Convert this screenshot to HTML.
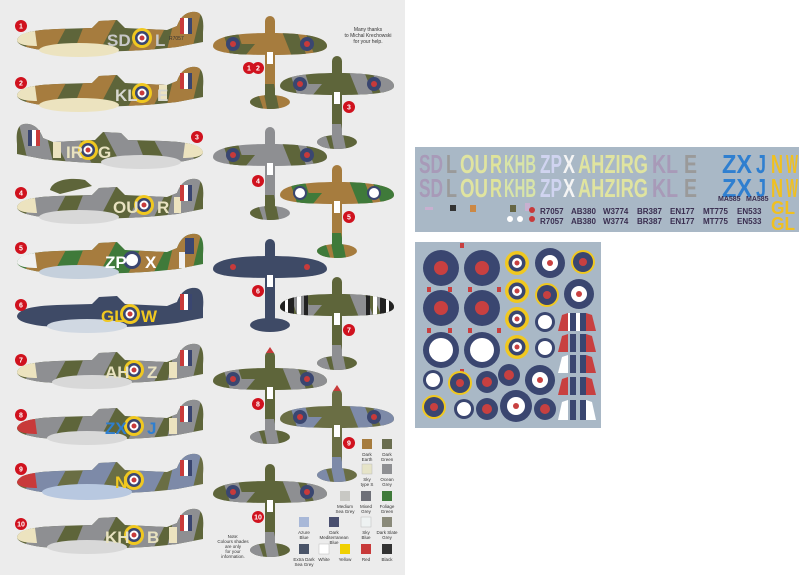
<!DOCTYPE html>
<html><head><meta charset="utf-8"><style>
html,body{margin:0;padding:0;background:#fff}
svg{display:block}
text{font-family:"Liberation Sans",sans-serif}
</style></head><body>
<svg width="800" height="575" viewBox="0 0 800 575" xmlns="http://www.w3.org/2000/svg">
<defs>
<path id="fus" d="M0,0 C2,-7 15,-10 40,-11 L75,-12 L82,-19 L100,-20 L108,-12 L150,-10 L160,-14 C164,-25 171,-29 179,-28 C186,-27 187,-18 186,-8 L186,2 L160,7 C120,12 60,13 25,10 C10,8 0,5 0,0Z"/>
<clipPath id="cf"><use href="#fus"/></clipPath>
<g id="camo">
<path d="M20,-14 L50,-14 L35,14 L5,14Z"/><path d="M70,-22 L100,-22 L80,16 L55,16Z"/><path d="M125,-16 L150,-16 L135,14 L110,14Z"/><path d="M160,-32 L185,-32 L175,10 L150,10Z"/>
</g>
<path id="wing" d="M-57,2 C-57,-7 -35,-11 0,-11 C35,-11 57,-7 57,2 C57,8 40,11 0,11 C-40,11 -57,8 -57,2Z"/>
<clipPath id="cp">
<path d="M-57,2 C-57,-7 -35,-11 0,-11 C35,-11 57,-7 57,2 C57,8 40,11 0,11 C-40,11 -57,8 -57,2Z"/>
<rect x="-5" y="-28" width="10" height="90" rx="5"/>
<ellipse cx="0" cy="58" rx="20" ry="7"/>
</clipPath>
<g id="plan">
<use href="#wing"/>
<rect x="-5" y="-28" width="10" height="90" rx="5"/>
<ellipse cx="0" cy="58" rx="20" ry="7"/>
</g>
<g id="pcamo">
<path d="M-50,-20 L-35,-20 L-5,70 L-20,70Z"/><path d="M5,-30 L20,-30 L40,20 L25,20Z"/><path d="M35,-12 L55,-12 L60,12 L45,12Z"/><path d="M-30,0 L-15,0 L-25,12 L-40,12Z"/><path d="M-8,40 L4,40 L10,70 L-2,70Z"/>
</g>
</defs>
<rect x="0" y="0" width="405" height="575" fill="#ececec"/>

<!-- SIDE PROFILES -->
<g font-weight="bold">
<g transform="translate(17,40)">
<use href="#fus" fill="#5e653a"/><g clip-path="url(#cf)" fill="#a67c3e"><use href="#camo"/></g>
<path d="M0,0 C2,-6 10,-8 18,-9 L20,6 C8,6 0,4 0,0Z" fill="#ece3bf"/>
<ellipse cx="62" cy="10" rx="40" ry="7" fill="#ece3bf"/>
<rect x="163" y="-22" width="12" height="16" fill="#3a4670"/><rect x="163" y="-22" width="8" height="16" fill="#fff"/><rect x="163" y="-22" width="4" height="16" fill="#c83a3a"/>
<circle cx="125" cy="-2" r="10" fill="#f0c820"/><circle cx="125" cy="-2" r="7" fill="#3a4670"/><circle cx="125" cy="-2" r="4.5" fill="#fff"/><circle cx="125" cy="-2" r="2.5" fill="#c83a3a"/>
<text x="90" y="6" font-size="17" fill="#c8c8c8">SD</text><text x="138" y="6" font-size="17" fill="#c8c8c8">L</text>
<text x="152" y="0" font-size="5" fill="#333" font-weight="normal">R7057</text>
</g>
<g transform="translate(17,95)">
<use href="#fus" fill="#5e653a"/><g clip-path="url(#cf)" fill="#a67c3e"><use href="#camo"/></g>
<path d="M0,0 C2,-6 10,-8 18,-9 L20,6 C8,6 0,4 0,0Z" fill="#ece3bf"/>
<ellipse cx="62" cy="10" rx="40" ry="7" fill="#ece3bf"/>
<rect x="142" y="-10" width="8" height="16" fill="#ece3bf"/>
<rect x="163" y="-22" width="12" height="16" fill="#3a4670"/><rect x="163" y="-22" width="8" height="16" fill="#fff"/><rect x="163" y="-22" width="4" height="16" fill="#c83a3a"/>
<circle cx="125" cy="-2" r="10" fill="#f0c820"/><circle cx="125" cy="-2" r="7" fill="#3a4670"/><circle cx="125" cy="-2" r="4.5" fill="#fff"/><circle cx="125" cy="-2" r="2.5" fill="#c83a3a"/>
<text x="98" y="6" font-size="17" fill="#d8d8d0">KL</text><text x="140" y="6" font-size="17" fill="#d8d8d0">E</text>
</g>
<g transform="translate(203,152) scale(-1,1)">
<use href="#fus" fill="#5e653a"/><g clip-path="url(#cf)" fill="#8e8f92"><use href="#camo"/></g>
<path d="M0,0 C2,-6 10,-8 18,-9 L20,6 C8,6 0,4 0,0Z" fill="#ece3bf"/>
<ellipse cx="62" cy="10" rx="40" ry="7" fill="#d8d8d8"/>
<rect x="142" y="-10" width="8" height="16" fill="#ece3bf"/>
<rect x="163" y="-22" width="12" height="16" fill="#3a4670"/><rect x="163" y="-22" width="8" height="16" fill="#fff"/><rect x="163" y="-22" width="4" height="16" fill="#c83a3a"/>
<circle cx="115" cy="-2" r="10" fill="#f0c820"/><circle cx="115" cy="-2" r="7" fill="#3a4670"/><circle cx="115" cy="-2" r="4.5" fill="#fff"/><circle cx="115" cy="-2" r="2.5" fill="#c83a3a"/>
</g>
<text x="66" y="158" font-size="17" fill="#e8e2c0">IR</text><text x="98" y="158" font-size="17" fill="#e8e2c0">G</text>
<g transform="translate(17,207)">
<use href="#fus" fill="#5e653a"/><g clip-path="url(#cf)" fill="#8e8f92"><use href="#camo"/></g>
<path d="M0,0 C2,-6 10,-8 18,-9 L20,6 C8,6 0,4 0,0Z" fill="#ece3bf"/>
<ellipse cx="62" cy="10" rx="40" ry="7" fill="#d8d8d8"/>
<rect x="157" y="-10" width="7" height="16" fill="#ece3bf"/>
<rect x="163" y="-22" width="12" height="16" fill="#3a4670"/><rect x="163" y="-22" width="8" height="16" fill="#fff"/><rect x="163" y="-22" width="4" height="16" fill="#c83a3a"/>
<circle cx="127" cy="-2" r="10" fill="#f0c820"/><circle cx="127" cy="-2" r="7" fill="#3a4670"/><circle cx="127" cy="-2" r="4.5" fill="#fff"/><circle cx="127" cy="-2" r="2.5" fill="#c83a3a"/>
<text x="96" y="6" font-size="17" fill="#e8e2c0">OU</text><text x="140" y="6" font-size="17" fill="#e8e2c0">R</text>
</g>
<path d="M50,190 C52,180 70,177 85,180 L92,186 L60,194Z" fill="#5e653a"/>
<g transform="translate(17,262)">
<use href="#fus" fill="#3f7a3a"/><g clip-path="url(#cf)" fill="#a67c3e"><use href="#camo"/></g>
<path d="M0,0 C2,-6 10,-8 18,-9 L20,6 C8,6 0,4 0,0Z" fill="#f0f0f0"/>
<ellipse cx="62" cy="10" rx="40" ry="7" fill="#c5d0dc"/>
<rect x="162" y="-10" width="6" height="16" fill="#f0f0f0"/>
<rect x="168" y="-24" width="9" height="16" fill="#3a4670"/>
<circle cx="115" cy="-2" r="9" fill="#3a4670"/><circle cx="115" cy="-2" r="6" fill="#fff"/>
<text x="88" y="6" font-size="17" fill="#fff">ZP</text><text x="128" y="6" font-size="17" fill="#fff">X</text>
</g>
<g transform="translate(17,316)">
<use href="#fus" fill="#3e4a66"/>
<ellipse cx="70" cy="10" rx="40" ry="7" fill="#d0d8e2"/>
<rect x="163" y="-22" width="12" height="16" fill="#3a4670"/><rect x="163" y="-22" width="8" height="16" fill="#fff"/><rect x="163" y="-22" width="4" height="16" fill="#c83a3a"/>
<circle cx="113" cy="-2" r="10" fill="#f0c820"/><circle cx="113" cy="-2" r="7" fill="#3a4670"/><circle cx="113" cy="-2" r="4.5" fill="#fff"/><circle cx="113" cy="-2" r="2.5" fill="#c83a3a"/>
<text x="84" y="6" font-size="17" fill="#f0c820">GL</text><text x="124" y="6" font-size="17" fill="#f0c820">W</text>
</g>
<g transform="translate(17,372)">
<use href="#fus" fill="#5e653a"/><g clip-path="url(#cf)" fill="#8e8f92"><use href="#camo"/></g>
<path d="M0,0 C2,-6 10,-8 18,-9 L20,6 C8,6 0,4 0,0Z" fill="#ece3bf"/>
<ellipse cx="75" cy="10" rx="40" ry="7" fill="#d8d8d8"/>
<rect x="152" y="-10" width="8" height="16" fill="#ece3bf"/>
<rect x="163" y="-22" width="12" height="16" fill="#3a4670"/><rect x="163" y="-22" width="8" height="16" fill="#fff"/><rect x="163" y="-22" width="4" height="16" fill="#c83a3a"/>
<circle cx="117" cy="-2" r="10" fill="#f0c820"/><circle cx="117" cy="-2" r="7" fill="#3a4670"/><circle cx="117" cy="-2" r="4.5" fill="#fff"/><circle cx="117" cy="-2" r="2.5" fill="#c83a3a"/>
<text x="88" y="6" font-size="17" fill="#e8e2c0">AH</text><text x="130" y="6" font-size="17" fill="#e8e2c0">Z</text>
</g>
<g transform="translate(17,428)">
<use href="#fus" fill="#5e653a"/><g clip-path="url(#cf)" fill="#8e8f92"><use href="#camo"/></g>
<path d="M0,0 C2,-6 10,-8 18,-9 L20,6 C8,6 0,4 0,0Z" fill="#c83a3a"/>
<ellipse cx="70" cy="10" rx="40" ry="7" fill="#d8d8d8"/>
<rect x="152" y="-10" width="8" height="16" fill="#ece3bf"/>
<rect x="163" y="-22" width="12" height="16" fill="#3a4670"/><rect x="163" y="-22" width="8" height="16" fill="#fff"/><rect x="163" y="-22" width="4" height="16" fill="#c83a3a"/>
<circle cx="117" cy="-2" r="10" fill="#f0c820"/><circle cx="117" cy="-2" r="7" fill="#3a4670"/><circle cx="117" cy="-2" r="4.5" fill="#fff"/><circle cx="117" cy="-2" r="2.5" fill="#c83a3a"/>
<text x="88" y="6" font-size="17" fill="#2f7fd0">ZX</text><text x="130" y="6" font-size="17" fill="#2f7fd0">J</text>
</g>
<g transform="translate(17,482)">
<use href="#fus" fill="#6a6e44"/><g clip-path="url(#cf)" fill="#7d8aa8"><use href="#camo"/></g>
<path d="M0,0 C2,-6 10,-8 18,-9 L20,6 C8,6 0,4 0,0Z" fill="#c83a3a"/>
<ellipse cx="70" cy="10" rx="45" ry="8" fill="#b8c8e0"/>
<rect x="163" y="-22" width="12" height="16" fill="#3a4670"/><rect x="163" y="-22" width="8" height="16" fill="#fff"/><rect x="163" y="-22" width="4" height="16" fill="#c83a3a"/>
<circle cx="117" cy="-2" r="10" fill="#f0c820"/><circle cx="117" cy="-2" r="7" fill="#3a4670"/><circle cx="117" cy="-2" r="4.5" fill="#fff"/><circle cx="117" cy="-2" r="2.5" fill="#c83a3a"/>
<text x="98" y="6" font-size="17" fill="#f0c820">N</text>
</g>
<g transform="translate(17,537)">
<use href="#fus" fill="#5e653a"/><g clip-path="url(#cf)" fill="#8e8f92"><use href="#camo"/></g>
<path d="M0,0 C2,-6 10,-8 18,-9 L20,6 C8,6 0,4 0,0Z" fill="#ece3bf"/>
<ellipse cx="70" cy="10" rx="40" ry="7" fill="#d8d8d8"/>
<rect x="152" y="-10" width="8" height="16" fill="#ece3bf"/>
<rect x="163" y="-22" width="12" height="16" fill="#3a4670"/><rect x="163" y="-22" width="8" height="16" fill="#fff"/><rect x="163" y="-22" width="4" height="16" fill="#c83a3a"/>
<circle cx="117" cy="-2" r="10" fill="#f0c820"/><circle cx="117" cy="-2" r="7" fill="#3a4670"/><circle cx="117" cy="-2" r="4.5" fill="#fff"/><circle cx="117" cy="-2" r="2.5" fill="#c83a3a"/>
<text x="88" y="6" font-size="17" fill="#e8e2c0">KH</text><text x="130" y="6" font-size="17" fill="#e8e2c0">B</text>
</g>
</g>

<g fill="#d0121e">
<circle cx="21" cy="26" r="6"/><circle cx="21" cy="83" r="6"/><circle cx="197" cy="137" r="6"/><circle cx="21" cy="193" r="6"/><circle cx="21" cy="248" r="6"/><circle cx="21" cy="305" r="6"/><circle cx="21" cy="360" r="6"/><circle cx="21" cy="415" r="6"/><circle cx="21" cy="469" r="6"/><circle cx="21" cy="524" r="6"/>
<circle cx="249" cy="68" r="6"/><circle cx="258" cy="68" r="6"/><circle cx="349" cy="107" r="6"/><circle cx="258" cy="181" r="6"/><circle cx="349" cy="217" r="6"/><circle cx="258" cy="291" r="6"/><circle cx="349" cy="330" r="6"/><circle cx="258" cy="404" r="6"/><circle cx="349" cy="443" r="6"/><circle cx="258" cy="517" r="6"/>
</g>
<g fill="#fff" font-size="7" font-weight="bold" text-anchor="middle">
<text x="21" y="28.5">1</text><text x="21" y="85.5">2</text><text x="197" y="139.5">3</text><text x="21" y="195.5">4</text><text x="21" y="250.5">5</text><text x="21" y="307.5">6</text><text x="21" y="362.5">7</text><text x="21" y="417.5">8</text><text x="21" y="471.5">9</text><text x="21" y="526.5">10</text>
<text x="249" y="70.5">1</text><text x="258" y="70.5">2</text><text x="349" y="109.5">3</text><text x="258" y="183.5">4</text><text x="349" y="219.5">5</text><text x="258" y="293.5">6</text><text x="349" y="332.5">7</text><text x="258" y="406.5">8</text><text x="349" y="445.5">9</text><text x="258" y="519.5">10</text>
</g>

<!-- TOP VIEWS -->
<g>
<g transform="translate(270,44)"><use href="#plan" fill="#a67c3e"/><g clip-path="url(#cp)" fill="#5e653a"><use href="#pcamo"/></g>
<circle cx="-37" cy="0" r="7" fill="#3a4670"/><circle cx="-37" cy="0" r="3" fill="#c83a3a"/><circle cx="37" cy="0" r="7" fill="#3a4670"/><circle cx="37" cy="0" r="3" fill="#c83a3a"/><rect x="-3" y="8" width="6" height="12" fill="#fff"/></g>
<g transform="translate(337,84)"><use href="#plan" fill="#5e653a"/><g clip-path="url(#cp)" fill="#8e8f92"><use href="#pcamo"/></g>
<circle cx="-37" cy="0" r="7" fill="#3a4670"/><circle cx="-37" cy="0" r="3" fill="#c83a3a"/><circle cx="37" cy="0" r="7" fill="#3a4670"/><circle cx="37" cy="0" r="3" fill="#c83a3a"/><rect x="-3" y="8" width="6" height="12" fill="#fff"/></g>
<g transform="translate(270,155)"><use href="#plan" fill="#8e8f92"/><g clip-path="url(#cp)" fill="#5e653a"><use href="#pcamo"/></g>
<circle cx="-37" cy="0" r="7" fill="#3a4670"/><circle cx="-37" cy="0" r="3" fill="#c83a3a"/><circle cx="37" cy="0" r="7" fill="#3a4670"/><circle cx="37" cy="0" r="3" fill="#c83a3a"/><rect x="-3" y="8" width="6" height="12" fill="#fff"/></g>
<g transform="translate(337,193)"><use href="#plan" fill="#a67c3e"/><g clip-path="url(#cp)" fill="#3f7a3a"><use href="#pcamo"/></g>
<circle cx="-37" cy="0" r="7" fill="#3a4670"/><circle cx="-37" cy="0" r="5" fill="#fff"/><circle cx="37" cy="0" r="7" fill="#3a4670"/><circle cx="37" cy="0" r="5" fill="#fff"/><rect x="-3" y="8" width="6" height="12" fill="#fff"/></g>
<g transform="translate(270,267)"><use href="#plan" fill="#3e4a66"/>
<circle cx="-37" cy="0" r="3" fill="#c83a3a"/><circle cx="37" cy="0" r="3" fill="#c83a3a"/><rect x="-3" y="8" width="6" height="12" fill="#fff"/></g>
<g transform="translate(337,305)"><use href="#plan" fill="#5e653a"/><g clip-path="url(#cp)" fill="#8e8f92"><use href="#pcamo"/></g>
<g clip-path="url(#cp)"><rect x="-57" y="-12" width="14" height="24" fill="#222"/><rect x="-52" y="-12" width="3" height="24" fill="#fff"/><rect x="-40" y="-12" width="4" height="24" fill="#fff"/><rect x="-33" y="-12" width="4" height="24" fill="#222"/><rect x="43" y="-12" width="14" height="24" fill="#222"/><rect x="49" y="-12" width="3" height="24" fill="#fff"/><rect x="36" y="-12" width="4" height="24" fill="#fff"/><rect x="29" y="-12" width="4" height="24" fill="#222"/></g>
<rect x="-3" y="8" width="6" height="12" fill="#fff"/></g>
<g transform="translate(270,379)"><use href="#plan" fill="#5e653a"/><g clip-path="url(#cp)" fill="#8e8f92"><use href="#pcamo"/></g>
<circle cx="-37" cy="0" r="7" fill="#3a4670"/><circle cx="-37" cy="0" r="3" fill="#c83a3a"/><circle cx="37" cy="0" r="7" fill="#3a4670"/><circle cx="37" cy="0" r="3" fill="#c83a3a"/><rect x="-3" y="8" width="6" height="12" fill="#fff"/><path d="M-4,-26 L0,-32 L4,-26Z" fill="#c83a3a"/></g>
<g transform="translate(337,417)"><use href="#plan" fill="#6a6e44"/><g clip-path="url(#cp)" fill="#7d8aa8"><use href="#pcamo"/></g>
<circle cx="-37" cy="0" r="7" fill="#3a4670"/><circle cx="-37" cy="0" r="3" fill="#c83a3a"/><circle cx="37" cy="0" r="7" fill="#3a4670"/><circle cx="37" cy="0" r="3" fill="#c83a3a"/><rect x="-3" y="8" width="6" height="12" fill="#fff"/><path d="M-4,-26 L0,-32 L4,-26Z" fill="#c83a3a"/></g>
<g transform="translate(270,492)"><use href="#plan" fill="#5e653a"/><g clip-path="url(#cp)" fill="#8e8f92"><use href="#pcamo"/></g>
<circle cx="-37" cy="0" r="7" fill="#3a4670"/><circle cx="-37" cy="0" r="3" fill="#c83a3a"/><circle cx="37" cy="0" r="7" fill="#3a4670"/><circle cx="37" cy="0" r="3" fill="#c83a3a"/><rect x="-3" y="8" width="6" height="12" fill="#fff"/></g>
</g>

<text x="368" y="31" font-size="5" text-anchor="middle" fill="#333">Many thanks</text>
<text x="368" y="37" font-size="5" text-anchor="middle" fill="#333">to Michal Krechowski</text>
<text x="368" y="43" font-size="5" text-anchor="middle" fill="#333">for your help.</text>

<text x="233" y="538" font-size="4.5" text-anchor="middle" fill="#333">Note:</text>
<text x="233" y="543" font-size="4.5" text-anchor="middle" fill="#333">Colours shades</text>
<text x="233" y="548" font-size="4.5" text-anchor="middle" fill="#333">are only</text>
<text x="233" y="553" font-size="4.5" text-anchor="middle" fill="#333">for your</text>
<text x="233" y="558" font-size="4.5" text-anchor="middle" fill="#333">information.</text>

<g font-size="4.5" text-anchor="middle" fill="#333">
<rect x="362" y="439" width="10" height="10" fill="#a67c3e"/><text x="367" y="456">Dark</text><text x="367" y="461">Earth</text>
<rect x="382" y="439" width="10" height="10" fill="#6a6e50"/><text x="387" y="456">Dark</text><text x="387" y="461">Green</text>
<rect x="362" y="464" width="10" height="10" fill="#e6e4c8" stroke="#bbb" stroke-width=".5"/><text x="367" y="481">Sky</text><text x="367" y="486">type S</text>
<rect x="382" y="464" width="10" height="10" fill="#8e8f92"/><text x="387" y="481">Ocean</text><text x="387" y="486">Grey</text>
<rect x="340" y="491" width="10" height="10" fill="#c8c8c4"/><text x="345" y="508">Medium</text><text x="345" y="513">Sea Grey</text>
<rect x="361" y="491" width="10" height="10" fill="#6e7078"/><text x="366" y="508">Mixed</text><text x="366" y="513">Grey</text>
<rect x="382" y="491" width="10" height="10" fill="#3f7a3a"/><text x="387" y="508">Foliage</text><text x="387" y="513">Green</text>
<rect x="299" y="517" width="10" height="10" fill="#a8b8d8"/><text x="304" y="534">Azure</text><text x="304" y="539">Blue</text>
<rect x="329" y="517" width="10" height="10" fill="#4a5070"/><text x="334" y="534">Dark</text><text x="334" y="539">Mediterranean</text><text x="334" y="544">Blue</text>
<rect x="361" y="517" width="10" height="10" fill="#eef2f2" stroke="#bbb" stroke-width=".5"/><text x="366" y="534">Sky</text><text x="366" y="539">Blue</text>
<rect x="382" y="517" width="10" height="10" fill="#8a8a7a"/><text x="387" y="534">Dark Slate</text><text x="387" y="539">Grey</text>
<rect x="299" y="544" width="10" height="10" fill="#4a5468"/><text x="304" y="561">Extra Dark</text><text x="304" y="566">Sea Grey</text>
<rect x="319" y="544" width="10" height="10" fill="#fff" stroke="#bbb" stroke-width=".5"/><text x="324" y="561">White</text>
<rect x="340" y="544" width="10" height="10" fill="#f0d000"/><text x="345" y="561">Yellow</text>
<rect x="361" y="544" width="10" height="10" fill="#c83a3a"/><text x="366" y="561">Red</text>
<rect x="382" y="544" width="10" height="10" fill="#333"/><text x="387" y="561">Black</text>
</g>

<!-- DECAL SHEET 1 -->
<rect x="415" y="147" width="384" height="85" fill="#a9b8c6"/>
<g font-weight="bold" font-size="26">
<g id="row1">
<text x="419" y="173" fill="#a89ab8" textLength="24" lengthAdjust="spacingAndGlyphs">SD</text>
<text x="446" y="173" fill="#9a9a9a" textLength="11" lengthAdjust="spacingAndGlyphs">L</text>
<text x="460" y="173" fill="#e0e4a0" textLength="28" lengthAdjust="spacingAndGlyphs">OU</text>
<text x="490" y="173" fill="#e0e49a" textLength="12" lengthAdjust="spacingAndGlyphs">R</text>
<text x="504" y="173" fill="#d8e4a8" textLength="32" lengthAdjust="spacingAndGlyphs">KHB</text>
<text x="540" y="173" fill="#d0d4f0" textLength="22" lengthAdjust="spacingAndGlyphs">ZP</text>
<text x="563" y="173" fill="#f4f4f4" textLength="12" lengthAdjust="spacingAndGlyphs">X</text>
<text x="578" y="173" fill="#e0e4a0" textLength="70" lengthAdjust="spacingAndGlyphs">AHZIRG</text>
<text x="652" y="173" fill="#a89ab8" textLength="26" lengthAdjust="spacingAndGlyphs">KL</text>
<text x="684" y="173" fill="#9a9a9a" textLength="13" lengthAdjust="spacingAndGlyphs">E</text>
<text x="722" y="173" fill="#2f7fd0" textLength="30" lengthAdjust="spacingAndGlyphs">ZX</text>
<text x="756" y="173" fill="#2f7fd0" textLength="10" lengthAdjust="spacingAndGlyphs">J</text>
<text x="771" y="173" fill="#f0c020" textLength="12" lengthAdjust="spacingAndGlyphs">N</text>
<text x="786" y="173" fill="#f0c020" textLength="12" lengthAdjust="spacingAndGlyphs">W</text>
</g>
<use href="#row1" y="24"/>
<text x="771" y="214" fill="#f0c020" font-size="18" textLength="24" lengthAdjust="spacingAndGlyphs">GL</text>
<text x="771" y="230" fill="#f0c020" font-size="18" textLength="24" lengthAdjust="spacingAndGlyphs">GL</text>
</g>
<g font-size="8" font-weight="bold" fill="#3a2e50">
<text x="718" y="201" font-size="7">MA585</text><text x="746" y="201" font-size="7">MA585</text>
<text x="540" y="214">R7057</text><text x="571" y="214">AB380</text><text x="603" y="214">W3774</text><text x="637" y="214">BR387</text><text x="670" y="214">EN177</text><text x="703" y="214">MT775</text><text x="737" y="214">EN533</text>
<text x="540" y="224">R7057</text><text x="571" y="224">AB380</text><text x="603" y="224">W3774</text><text x="637" y="224">BR387</text><text x="670" y="224">EN177</text><text x="703" y="224">MT775</text><text x="737" y="224">EN533</text>
</g>
<g fill="#c8b0d0"><rect x="425" y="207" width="8" height="3"/><rect x="450" y="205" width="6" height="6" fill="#333"/><rect x="470" y="205" width="6" height="7" fill="#c84"/><rect x="510" y="205" width="6" height="7" fill="#664"/><rect x="525" y="203" width="5" height="8"/><circle cx="532" cy="210" r="3" fill="#c83a3a"/><circle cx="532" cy="219" r="3" fill="#c83a3a"/><circle cx="510" cy="219" r="3" fill="#fff"/><circle cx="520" cy="219" r="3" fill="#fff"/></g>

<!-- DECAL SHEET 2 -->
<rect x="415" y="242" width="186" height="186" fill="#a9b8c6"/>
<g fill="#3a4670">
<circle cx="441" cy="268" r="18"/><circle cx="482" cy="268" r="18"/><circle cx="441" cy="308" r="18"/><circle cx="482" cy="308" r="18"/><circle cx="441" cy="350" r="18"/><circle cx="482" cy="350" r="18"/>
</g>
<g fill="#c84040"><circle cx="441" cy="268" r="7"/><circle cx="482" cy="268" r="7"/><circle cx="441" cy="308" r="7"/><circle cx="482" cy="308" r="7"/></g>
<g fill="#fff"><circle cx="441" cy="350" r="12"/><circle cx="482" cy="350" r="12"/></g>
<g fill="#c84040"><rect x="460" y="243" width="4" height="5"/><rect x="427" y="287" width="4" height="5"/><rect x="448" y="287" width="4" height="5"/><rect x="468" y="287" width="4" height="5"/><rect x="497" y="287" width="4" height="5"/><rect x="427" y="328" width="4" height="5"/><rect x="448" y="328" width="4" height="5"/><rect x="468" y="328" width="4" height="5"/><rect x="497" y="328" width="4" height="5"/><rect x="460" y="369" width="4" height="5"/></g>
<g>
<circle cx="517" cy="263" r="12" fill="#f0c820"/><circle cx="517" cy="263" r="8.5" fill="#3a4670"/><circle cx="517" cy="263" r="5" fill="#fff"/><circle cx="517" cy="263" r="2.5" fill="#c84040"/>
<circle cx="517" cy="291" r="12" fill="#f0c820"/><circle cx="517" cy="291" r="8.5" fill="#3a4670"/><circle cx="517" cy="291" r="5" fill="#fff"/><circle cx="517" cy="291" r="2.5" fill="#c84040"/>
<circle cx="517" cy="319" r="12" fill="#f0c820"/><circle cx="517" cy="319" r="8.5" fill="#3a4670"/><circle cx="517" cy="319" r="5" fill="#fff"/><circle cx="517" cy="319" r="2.5" fill="#c84040"/>
<circle cx="517" cy="347" r="12" fill="#f0c820"/><circle cx="517" cy="347" r="8.5" fill="#3a4670"/><circle cx="517" cy="347" r="5" fill="#fff"/><circle cx="517" cy="347" r="2.5" fill="#c84040"/>
<circle cx="583" cy="262" r="12" fill="#f0c820"/><circle cx="583" cy="262" r="10" fill="#3a4670"/><circle cx="583" cy="262" r="4" fill="#c84040"/>
<circle cx="547" cy="295" r="12" fill="#f0c820"/><circle cx="547" cy="295" r="10" fill="#3a4670"/><circle cx="547" cy="295" r="4" fill="#c84040"/>
<circle cx="460" cy="383" r="12" fill="#f0c820"/><circle cx="460" cy="383" r="10" fill="#3a4670"/><circle cx="460" cy="383" r="4" fill="#c84040"/>
<circle cx="434" cy="407" r="12" fill="#f0c820"/><circle cx="434" cy="407" r="10" fill="#3a4670"/><circle cx="434" cy="407" r="4" fill="#c84040"/>
</g>
<g>
<circle cx="550" cy="263" r="15" fill="#3a4670"/><circle cx="550" cy="263" r="8" fill="#fff"/><circle cx="550" cy="263" r="3" fill="#c84040"/>
<circle cx="579" cy="294" r="15" fill="#3a4670"/><circle cx="579" cy="294" r="8" fill="#fff"/><circle cx="579" cy="294" r="3" fill="#c84040"/>
<circle cx="545" cy="322" r="10" fill="#3a4670"/><circle cx="545" cy="322" r="7" fill="#fff"/>
<circle cx="545" cy="348" r="10" fill="#3a4670"/><circle cx="545" cy="348" r="7" fill="#fff"/>
<circle cx="433" cy="380" r="10" fill="#3a4670"/><circle cx="433" cy="380" r="7" fill="#fff"/>
<circle cx="487" cy="382" r="11" fill="#3a4670"/><circle cx="487" cy="382" r="5" fill="#c84040"/>
<circle cx="509" cy="375" r="11" fill="#3a4670"/><circle cx="509" cy="375" r="5" fill="#c84040"/>
<circle cx="540" cy="380" r="15" fill="#3a4670"/><circle cx="540" cy="380" r="8" fill="#fff"/><circle cx="540" cy="380" r="3" fill="#c84040"/>
<circle cx="464" cy="409" r="10" fill="#3a4670"/><circle cx="464" cy="409" r="7" fill="#fff"/>
<circle cx="487" cy="409" r="11" fill="#3a4670"/><circle cx="487" cy="409" r="5" fill="#c84040"/>
<circle cx="516" cy="406" r="16" fill="#3a4670"/><circle cx="516" cy="406" r="9" fill="#fff"/><circle cx="516" cy="406" r="3" fill="#c84040"/>
<circle cx="545" cy="409" r="11" fill="#3a4670"/><circle cx="545" cy="409" r="5" fill="#c84040"/>
</g>
<g>
<g transform="translate(558,313)"><path d="M0,18 L4,2 L10,0 L10,18Z" fill="#c84040"/><rect x="10" y="0" width="8" height="18" fill="#fff"/><rect x="12" y="0" width="6" height="18" fill="#3a4670"/><rect x="18" y="0" width="4" height="18" fill="#fff"/><rect x="22" y="0" width="6" height="18" fill="#3a4670"/><path d="M28,0 L34,2 L38,18 L28,18Z" fill="#c84040"/></g>
<g transform="translate(558,334)"><path d="M0,18 L4,2 L10,0 L10,18Z" fill="#c84040"/><rect x="12" y="0" width="6" height="18" fill="#3a4670"/><rect x="22" y="0" width="6" height="18" fill="#3a4670"/><path d="M28,0 L34,2 L38,18 L28,18Z" fill="#c84040"/></g>
<g transform="translate(558,355)"><path d="M0,18 L4,2 L10,0 L10,18Z" fill="#fff"/><rect x="12" y="0" width="6" height="18" fill="#3a4670"/><rect x="22" y="0" width="6" height="18" fill="#3a4670"/><path d="M28,0 L34,2 L38,18 L28,18Z" fill="#c84040"/></g>
<g transform="translate(558,377)"><path d="M0,18 L4,2 L10,0 L10,18Z" fill="#c84040"/><rect x="12" y="0" width="6" height="18" fill="#3a4670"/><rect x="22" y="0" width="6" height="18" fill="#3a4670"/><path d="M28,0 L34,2 L38,18 L28,18Z" fill="#c84040"/></g>
<g transform="translate(558,400)"><path d="M0,20 L4,2 L10,0 L10,20Z" fill="#fff"/><rect x="12" y="0" width="6" height="20" fill="#3a4670"/><rect x="22" y="0" width="6" height="20" fill="#3a4670"/><path d="M28,0 L34,2 L38,20 L28,20Z" fill="#fff"/></g>
</g>
</svg>
</body></html>
